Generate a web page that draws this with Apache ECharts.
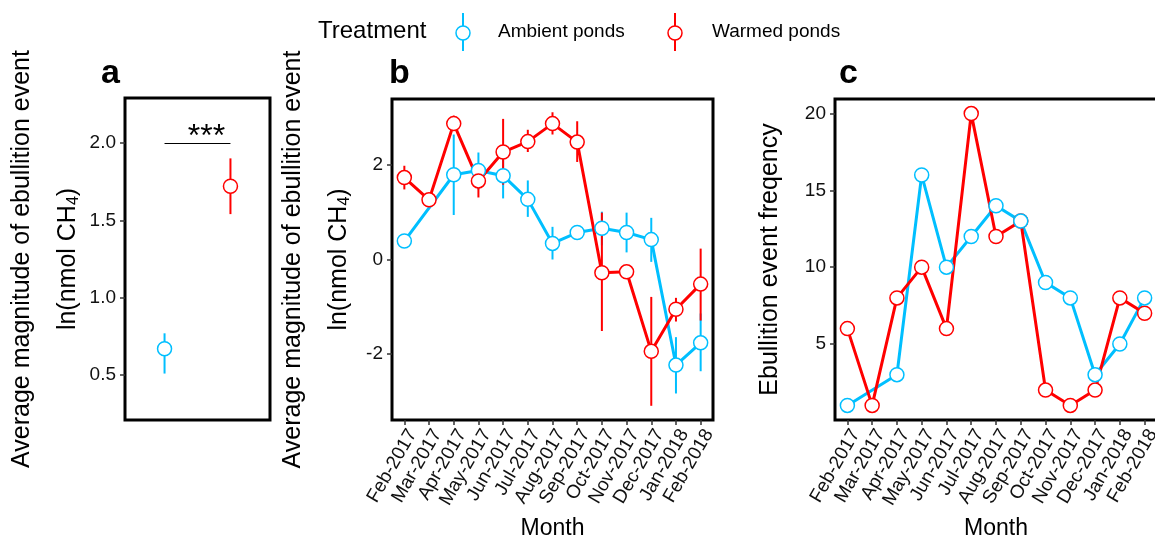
<!DOCTYPE html>
<html>
<head>
<meta charset="utf-8">
<script src="https://cdn.jsdelivr.net/npm/echarts@6/dist/echarts.min.js"></script>
<style>
  html, body { margin: 0; padding: 0; background: #fff; }
  #main { width: 1155px; height: 539px; }
</style>
</head>
<body>
<div id="main"></div>
<script>
// ---- data ----
const treatments = ["Ambient ponds", "Warmed ponds"];
const months = ["Feb-2017", "Mar-2017", "Apr-2017", "May-2017", "Jun-2017", "Jul-2017", "Aug-2017",
  "Sep-2017", "Oct-2017", "Nov-2017", "Dec-2017", "Jan-2018", "Feb-2018"];

// panel a: overall mean +- error
const aMean = [0.67, 1.72];
const aLow = [0.51, 1.54];
const aHigh = [0.77, 1.90];
const aSigY = 2.0;

// panel b: monthly ln(nmol CH4)
const bAmbMean = [0.39, null, 1.79, 1.88, 1.77, 1.27, 0.34, 0.57, 0.66, 0.57, 0.42, -2.23, -1.76];
const bAmbLow = [0.29, null, 0.94, 1.48, 1.29, 0.90, 0.00, 0.47, 0.30, 0.15, -0.05, -2.83, -2.36];
const bAmbHigh = [0.49, null, 2.64, 2.26, 2.14, 1.67, 0.69, 0.67, 1.01, 0.99, 0.88, -1.64, -1.14];
const bWarmMean = [1.73, 1.26, 2.87, 1.66, 2.27, 2.49, 2.87, 2.48, -0.28, -0.26, -1.94, -1.05, -0.52];
const bWarmLow = [1.48, 1.16, 2.74, 1.31, 1.58, 2.27, 2.64, 2.06, -1.51, -0.36, -3.09, -1.31, -1.29];
const bWarmHigh = [1.98, 1.36, 3.04, 2.00, 2.97, 2.74, 3.11, 2.92, 0.99, -0.16, -0.79, -0.81, 0.23];

// panel c: event frequency
const cAmb = [1, null, 3, 16, 10, 12, 14, 13, 9, 8, 3, 5, 8];
const cWarm = [6, 1, 8, 10, 6, 20, 12, 13, 2, 1, 2, 8, 7];

// tick labels
const ticksA = [0.5, 1.0, 1.5, 2.0];
const ticksB = [-2, 0, 2];
const ticksC = [5, 10, 15, 20];

const colors = ["#00BFFF", "#FF0000"];
const FONT = "Liberation Sans, Arial, sans-serif";

const myChart = echarts.init(document.getElementById("main"), null, { renderer: "canvas" });

// error bars drawn with a custom series
function errorBars(gridIndex, xs, low, high, color) {
  const data = [];
  xs.forEach((x, i) => {
    if (low[i] != null) data.push([x, low[i], high[i]]);
  });
  return {
    type: "custom",
    xAxisIndex: gridIndex,
    yAxisIndex: gridIndex,
    z: 2,
    silent: true,
    data: data,
    encode: { x: 0, y: [1, 2] },
    renderItem: (params, api) => {
      const lo = api.coord([api.value(0), api.value(1)]);
      const hi = api.coord([api.value(0), api.value(2)]);
      return {
        type: "line",
        shape: { x1: lo[0], y1: lo[1], x2: hi[0], y2: hi[1] },
        style: { stroke: color, lineWidth: 2 },
      };
    },
  };
}

function lineSeries(gridIndex, values, color) {
  return {
    type: "line",
    xAxisIndex: gridIndex,
    yAxisIndex: gridIndex,
    data: values,
    showSymbol: false,
    connectNulls: true,
    silent: true,
    z: 3,
    lineStyle: { color: color, width: 3 },
  };
}

function points(gridIndex, values, color, name) {
  return {
    type: "scatter",
    name: name,
    xAxisIndex: gridIndex,
    yAxisIndex: gridIndex,
    data: values,
    symbolSize: 14,
    silent: true,
    z: 4,
    itemStyle: { color: "#fff", borderColor: color, borderWidth: 1.5, opacity: 1 },
  };
}

const idx = months.map((m, i) => i);

// keep the grid where it is put, even if names run off the canvas
const gridBox = { show: true, borderColor: "#000", borderWidth: 3, backgroundColor: "transparent", outerBoundsMode: "none", containLabel: false };
const tickStyle = { show: true, length: 5, lineStyle: { color: "#333", width: 1.5 } };

function yAxisOf(gridIndex, min, max, ticks, name, nameGap, fmt) {
  return {
    type: "value",
    gridIndex: gridIndex,
    min: min,
    max: max,
    splitLine: { show: false },
    axisLine: { show: false, onZero: false },
    axisTick: Object.assign({ customValues: ticks }, tickStyle),
    axisLabel: {
      customValues: ticks,
      formatter: fmt,
      fontSize: 19,
      color: "#111",
      fontFamily: FONT,
      margin: 9,
    },
    name: name,
    nameLocation: "middle",
    nameRotate: 90,
    nameGap: nameGap,
    nameMoveOverlap: false,
    nameTextStyle: {
      fontSize: 25,
      lineHeight: 46,
      color: "#000",
      fontFamily: FONT,
      rich: {
        t: { fontSize: 25, lineHeight: 46, fontFamily: FONT, color: "#000" },
        s: { fontSize: 16, verticalAlign: "bottom", padding: [0, 0, 9, 0], fontFamily: FONT, color: "#000" },
      },
    },
  };
}

function monthAxis(gridIndex) {
  return {
    type: "category",
    gridIndex: gridIndex,
    data: months,
    boundaryGap: true,
    axisLine: { show: false, onZero: false },
    axisTick: Object.assign({ alignWithLabel: true }, tickStyle),
    axisLabel: {
      rotate: 60, fontSize: 19, color: "#111", fontFamily: FONT,
      margin: 6, interval: 0, verticalAlign: "top",
    },
    name: "Month",
    nameLocation: "middle",
    nameGap: 97,
    nameMoveOverlap: false,
    nameTextStyle: { fontSize: 23, color: "#000", fontFamily: FONT },
  };
}

const magName = "{t|Average magnitude of ebullition event}\n{t|ln(nmol CH}{s|4}{t|)}";
const panelTitle = { fontSize: 34, fontWeight: "bold", color: "#000", fontFamily: FONT };

myChart.setOption({
  animation: false,
  textStyle: { fontFamily: FONT },
  title: [
    { text: "a", left: 101, top: 57, padding: 0, textStyle: panelTitle },
    { text: "b", left: 389, top: 57, padding: 0, textStyle: panelTitle },
    { text: "c", left: 839, top: 57, padding: 0, textStyle: panelTitle },
  ],
  grid: [
    Object.assign({ left: 125, top: 98, width: 145, height: 322 }, gridBox),
    Object.assign({ left: 392, top: 99, width: 321, height: 321 }, gridBox),
    Object.assign({ left: 835, top: 99, width: 322, height: 321 }, gridBox),
  ],
  xAxis: [
    { type: "value", gridIndex: 0, min: 0.4, max: 2.6, show: false },
    monthAxis(1),
    monthAxis(2),
  ],
  yAxis: [
    yAxisOf(0, 0.21, 2.29, ticksA, magName, 34, (v) => v.toFixed(1)),
    yAxisOf(1, -3.39, 3.39, ticksB, magName, 30, (v) => String(v)),
    yAxisOf(2, 0.05, 20.95, ticksC, "Ebullition event freqency", 42, (v) => String(v)),
  ],
  graphic: [
    { type: "text", left: 318, top: 19, style: { text: "Treatment", fontSize: 24, fill: "#000", fontFamily: FONT } },
    { type: "line", shape: { x1: 463, y1: 13, x2: 463, y2: 51 }, style: { stroke: colors[0], lineWidth: 2 } },
    { type: "circle", shape: { cx: 463, cy: 33, r: 7 }, style: { fill: "#fff", stroke: colors[0], lineWidth: 1.5 } },
    { type: "text", left: 498, top: 22, style: { text: treatments[0], fontSize: 19, fill: "#000", fontFamily: FONT } },
    { type: "line", shape: { x1: 675, y1: 13, x2: 675, y2: 51 }, style: { stroke: colors[1], lineWidth: 2 } },
    { type: "circle", shape: { cx: 675, cy: 33, r: 7 }, style: { fill: "#fff", stroke: colors[1], lineWidth: 1.5 } },
    { type: "text", left: 712, top: 22, style: { text: treatments[1], fontSize: 19, fill: "#000", fontFamily: FONT } },
  ],
  series: [
    // panel a
    errorBars(0, [1], [aLow[0]], [aHigh[0]], colors[0]),
    errorBars(0, [2], [aLow[1]], [aHigh[1]], colors[1]),
    Object.assign(points(0, [[1, aMean[0]]], colors[0], treatments[0]), {
      markLine: {
        silent: true,
        symbol: "none",
        lineStyle: { color: "#000", width: 1, type: "solid" },
        label: { show: true, position: "middle", formatter: "***", fontSize: 32, color: "#000", fontFamily: FONT, distance: 0, offset: [9, 10] },
        data: [[{ coord: [1, aSigY] }, { coord: [2, aSigY] }]],
      },
    }),
    points(0, [[2, aMean[1]]], colors[1], treatments[1]),

    // panel b
    errorBars(1, idx, bAmbLow, bAmbHigh, colors[0]),
    errorBars(1, idx, bWarmLow, bWarmHigh, colors[1]),
    lineSeries(1, bAmbMean, colors[0]),
    lineSeries(1, bWarmMean, colors[1]),
    points(1, bAmbMean, colors[0], treatments[0]),
    points(1, bWarmMean, colors[1], treatments[1]),

    // panel c
    lineSeries(2, cAmb, colors[0]),
    lineSeries(2, cWarm, colors[1]),
    points(2, cWarm, colors[1], treatments[1]),
    points(2, cAmb, colors[0], treatments[0]),
  ],
});
</script>
</body>
</html>
